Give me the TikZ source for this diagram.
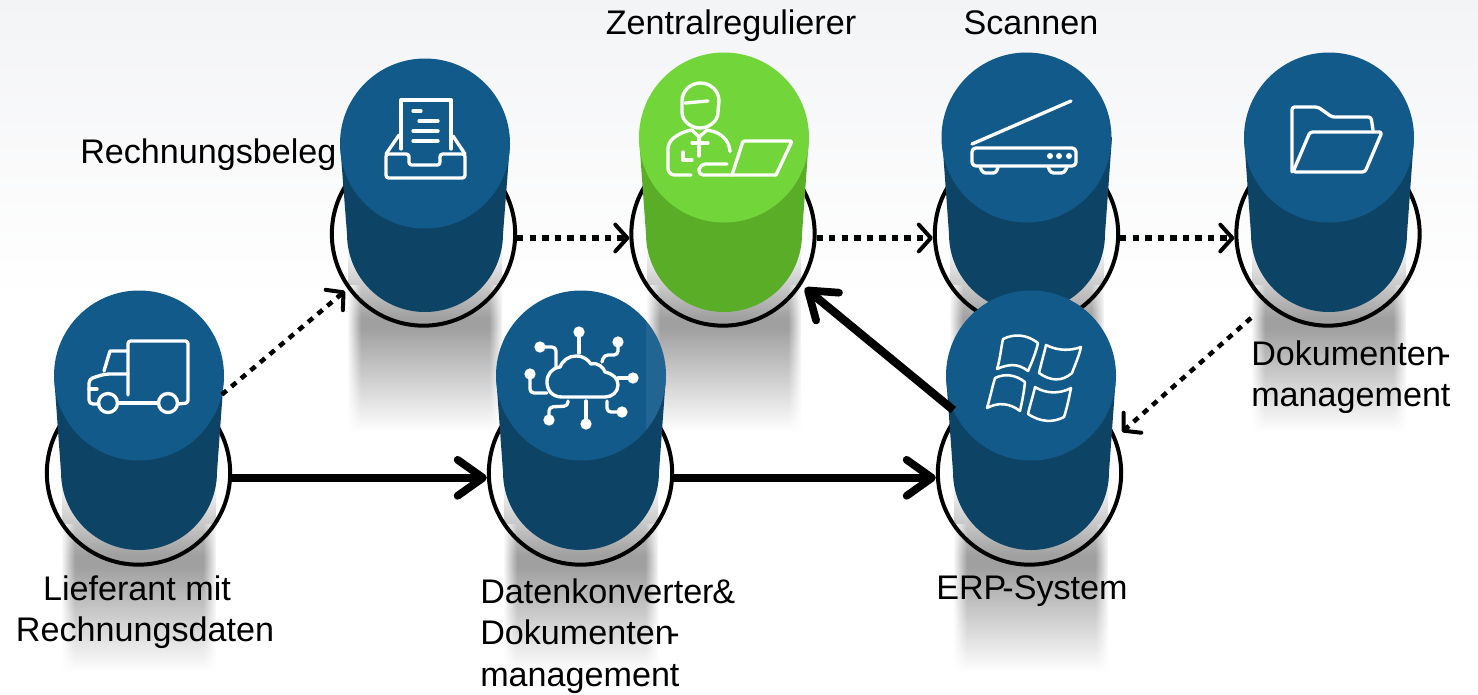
\documentclass[tikz,border=0pt]{standalone}
\usepackage{fontspec}
\setmainfont{Liberation Sans}
\usetikzlibrary{arrows.meta,calc,fadings}
\definecolor{capblue}{HTML}{125A8A}
\definecolor{bodyblue}{HTML}{0D4466}
\definecolor{capgreen}{HTML}{72D63A}
\definecolor{bodygreen}{HTML}{5AAD26}
\definecolor{columngrey}{HTML}{A0A0A0}
\definecolor{midgrey}{HTML}{E0E0E0}
\definecolor{paper}{HTML}{F3F4F6}
\tikzset{
  capdisc/.style={circle,inner sep=0,outer sep=0,minimum size=127.5pt,fill=#1},
  ringnode/.style={circle,draw=black,line width=3pt,inner sep=0,minimum size=137.5pt},
  icon/.style={draw=white,line width=2.5pt,line join=round,line cap=round},
  icondot/.style={fill=white,circle,inner sep=0,outer sep=0,minimum size=8.5pt},
  label/.style={font=\fontsize{25.6}{31.3}\selectfont,inner sep=0,align=left},
  solidflow/.style={line width=6.2pt,-{Straight Barb[length=19pt,width=27pt,line width=5.8pt,round]}},
  dotflow/.style={line width=4pt,dash pattern=on 4.7pt off 4.7pt,-{Straight Barb[length=9pt,width=20pt,line width=3pt,round]}}
}
\begin{document}
\begin{tikzpicture}[x=0.75pt,y=-0.75pt]
\useasboundingbox (0,0) rectangle (1478,694);
\fill[white] (0,0) rectangle (1478,694);
\shade[top color=paper,bottom color=white] (0,0) rectangle (1478,300);

\shade[top color=white,bottom color=columngrey] (348,243) rectangle (502,318);
\fill[columngrey] (348,318) rectangle (502,328);
\shade[top color=columngrey,middle color=midgrey,bottom color=white] (348,328) rectangle (502,432);
\shade[top color=white,bottom color=columngrey] (647,243) rectangle (801,318);
\fill[columngrey] (647,318) rectangle (801,328);
\shade[top color=columngrey,middle color=midgrey,bottom color=white] (647,328) rectangle (801,432);
\shade[top color=white,bottom color=columngrey] (950,243) rectangle (1104,318);
\fill[columngrey] (950,318) rectangle (1104,328);
\shade[top color=columngrey,middle color=midgrey,bottom color=white] (950,328) rectangle (1104,432);
\shade[top color=white,bottom color=columngrey] (1252,243) rectangle (1406,318);
\fill[columngrey] (1252,318) rectangle (1406,328);
\shade[top color=columngrey,middle color=midgrey,bottom color=white] (1252,328) rectangle (1406,432);
\shade[top color=white,bottom color=columngrey] (62,480) rectangle (216,555);
\fill[columngrey] (62,555) rectangle (216,567);
\shade[top color=columngrey,middle color=midgrey,bottom color=white] (62,567) rectangle (216,672);
\shade[top color=white,bottom color=columngrey] (504,480) rectangle (658,555);
\fill[columngrey] (504,555) rectangle (658,567);
\shade[top color=columngrey,middle color=midgrey,bottom color=white] (504,567) rectangle (658,672);
\shade[top color=white,bottom color=columngrey] (954,480) rectangle (1108,555);
\fill[columngrey] (954,555) rectangle (1108,567);
\shade[top color=columngrey,middle color=midgrey,bottom color=white] (954,567) rectangle (1108,672);
\fill[white,path fading=east] (347,285) rectangle (361,432);
\fill[white,path fading=west] (489,285) rectangle (503,432);
\fill[white,path fading=east] (646,285) rectangle (660,432);
\fill[white,path fading=west] (788,285) rectangle (802,432);
\fill[white,path fading=east] (949,285) rectangle (963,432);
\fill[white,path fading=west] (1091,285) rectangle (1105,432);
\fill[white,path fading=east] (1251,285) rectangle (1265,432);
\fill[white,path fading=west] (1393,285) rectangle (1407,432);
\fill[white,path fading=east] (61,524) rectangle (75,672);
\fill[white,path fading=west] (203,524) rectangle (217,672);
\fill[white,path fading=east] (503,524) rectangle (517,672);
\fill[white,path fading=west] (645,524) rectangle (659,672);
\fill[white,path fading=east] (953,524) rectangle (967,672);
\fill[white,path fading=west] (1095,524) rectangle (1109,672);

\node[ringnode] (belegring) at (423.5,234) {};
\fill[bodyblue] (340,143) -- (347,234) arc[start angle=180,end angle=0,radius=78] -- (510,143) -- cycle;
\node[capdisc=capblue] (belegcap) at (425,143.5) {};
\node[ringnode] (zentralring) at (723,234) {};
\fill[bodygreen] (639,137) -- (646,234) arc[start angle=180,end angle=0,radius=78] -- (809,137) -- cycle;
\node[capdisc=capgreen] (zentralcap) at (724,137.5) {};
\node[ringnode] (scanring) at (1026.5,234) {};
\fill[bodyblue] (942,137) -- (949,234) arc[start angle=180,end angle=0,radius=78] -- (1112,137) -- cycle;
\node[capdisc=capblue] (scancap) at (1026.5,137.5) {};
\node[ringnode] (ordnerring) at (1328,234) {};
\fill[bodyblue] (1244,137) -- (1251,234) arc[start angle=180,end angle=0,radius=78] -- (1414,137) -- cycle;
\node[capdisc=capblue] (ordnercap) at (1329,137.5) {};
\node[ringnode] (lieferantring) at (138.5,473) {};
\fill[bodyblue] (54,375) -- (61,472) arc[start angle=180,end angle=0,radius=78] -- (224,375) -- cycle;
\node[capdisc=capblue] (lieferantcap) at (139,375.5) {};
\node[ringnode] (konverterring) at (580.5,473) {};
\fill[bodyblue] (496,375) -- (503,472) arc[start angle=180,end angle=0,radius=78] -- (666,375) -- cycle;
\node[capdisc=capblue] (konvertercap) at (581,375.5) {};
\fill[white,opacity=0.07] (646,321) arc[start angle=-40,end angle=40,radius=85] -- cycle;
\node[ringnode] (erpring) at (1029.5,473) {};
\fill[bodyblue] (946,375) -- (953,472) arc[start angle=180,end angle=0,radius=78] -- (1116,375) -- cycle;
\node[capdisc=capblue] (erpcap) at (1031,375.5) {};

\draw[icon] (401,149) -- (401,100) -- (451,100) -- (451,149);
\draw[icon] (413,111) -- (421,111);
\draw[icon] (419,121) -- (438,121);
\draw[icon] (413,131) -- (438,131);
\draw[icon] (413,141) -- (438,141);
\draw[icon,rounded corners=2pt] (386,154) -- (409,154) -- (409,165) -- (440,165) -- (440,154) -- (465,154) -- (465,178) -- (386,178) -- cycle;
\draw[icon] (386,154) -- (399,135);
\draw[icon] (465,154) -- (453,136);

\draw[icon] (682,101) arc[start angle=180,end angle=360,x radius=18.5,y radius=18] -- (718,112) .. controls (718,122) and (708,128) .. (700,128) .. controls (692,128) and (682,122) .. (682,112) -- cycle;
\draw[icon] (685,103) -- (708,101);
\draw[icon,rounded corners=5pt] (691,175) -- (668,175) -- (668,142) -- (682,132) -- (692,130);
\draw[icon,rounded corners=5pt] (707,130) -- (720,133) -- (730,145) -- (730,151);
\draw[icon] (692,130) -- (699,137) -- (707,130);
\draw[icon] (692,143) -- (708,143);
\draw[icon] (699,137) -- (699,156);
\draw[icon] (683,152) -- (683,160) -- (692,160);
\draw[icon,rounded corners=4pt] (727,164) -- (700,164) -- (698,175) -- (776,175);
\draw[icon,rounded corners=1pt] (732,175) -- (743,141) -- (792,141) -- (776,175);

\draw[icon] (972,144) -- (1071,101);
\draw[icon,rounded corners=3pt] (972,148) rectangle (1076,166);
\draw[icon,rounded corners=2pt] (980,167) -- (983,173) -- (996,173) -- (998,167);
\draw[icon,rounded corners=2pt] (1048,167) -- (1051,173) -- (1064,173) -- (1067,167);
\node[icondot,minimum size=4.5pt] (scandota) at (1050,156) {};
\node[icondot,minimum size=4.5pt] (scandotb) at (1059,156) {};
\node[icondot,minimum size=4.5pt] (scandotc) at (1069,156) {};

\draw[icon,rounded corners=2pt] (1292,172) -- (1292,107) -- (1318,107) -- (1332,117) -- (1371,117) -- (1373,130);
\draw[icon,rounded corners=2pt] (1293,172) -- (1310,132) -- (1382,132) -- (1365,172) -- cycle;

\draw[icon,rounded corners=2pt] (128,395) -- (128,341) -- (188,341) -- (188,403) -- (178,404);
\draw[icon] (104,371) -- (110,351) -- (128,351);
\draw[icon,rounded corners=3pt] (128,374) -- (105,374) -- (89,379) -- (89,404) -- (99,404);
\draw[icon] (89,389) -- (97,389);
\draw[icon] (118,403) -- (158,403);
\draw[icon] (108,403) circle[radius=9.5];
\draw[icon] (168,403) circle[radius=9.5];

\draw[icon] (562,397) .. controls (552,397) and (547,390) .. (547,382) .. controls (547,374) and (552,368) .. (560,367) .. controls (563,360) and (569,356) .. (576,356) .. controls (584,356) and (588,360) .. (591,364) .. controls (598,362) and (604,368) .. (605,372) .. controls (613,374) and (618,378) .. (618,385) .. controls (618,392) and (612,397) .. (605,397) -- cycle;
\draw[icon] (579,332) -- (579,353);
\draw[icon,rounded corners=3pt] (618,342) -- (618,355) -- (604,355) -- (602,362);
\draw[icon,rounded corners=3pt] (540,347) -- (556,347) -- (556,367);
\draw[icon,rounded corners=3pt] (530,374) -- (530,393) -- (547,393);
\draw[icon] (618,378) -- (633,378);
\draw[icon,rounded corners=3pt] (549,420) -- (549,407) -- (568,406) -- (568,401);
\draw[icon] (586,401) -- (586,424);
\draw[icon,rounded corners=3pt] (607,401) -- (607,412) -- (622,412);
\node[icondot] (clouddota) at (579,332) {};
\node[icondot] (clouddotb) at (618,342) {};
\node[icondot] (clouddotc) at (540,347) {};
\node[icondot] (clouddotd) at (530,374) {};
\node[icondot] (clouddote) at (633,378) {};
\node[icondot] (clouddotf) at (549,420) {};
\node[icondot] (clouddotg) at (586,424) {};
\node[icondot] (clouddoth) at (622,412) {};

\draw[icon,line width=1.9pt] (997,369) .. controls (1000,360) and (1001,348) .. (1003,339) .. controls (1015,333) and (1028,335) .. (1038,343) .. controls (1036,352) and (1032,362) .. (1028,371) .. controls (1018,363) and (1008,364) .. (997,369) -- cycle;
\draw[icon,line width=1.9pt] (1046,345) .. controls (1058,351) and (1070,351) .. (1081,347) .. controls (1079,356) and (1075,365) .. (1072,373) .. controls (1062,382) and (1050,381) .. (1039,373) .. controls (1041,364) and (1044,354) .. (1046,345) -- cycle;
\draw[icon,line width=1.9pt] (987,408) .. controls (990,398) and (992,388) .. (995,378) .. controls (1005,373) and (1016,375) .. (1025,382) .. controls (1024,392) and (1022,402) .. (1020,411) .. controls (1010,403) and (998,402) .. (987,408) -- cycle;
\draw[icon,line width=1.9pt] (1035,387) .. controls (1046,394) and (1060,394) .. (1071,388) .. controls (1069,398) and (1067,408) .. (1064,417) .. controls (1053,423) and (1040,422) .. (1028,414) .. controls (1030,405) and (1033,396) .. (1035,387) -- cycle;

\coordinate (belegtip) at (345,291);
\coordinate (zentraltip) at (805,288);
\coordinate (erptip) at (1122,432);
\coordinate (ordnerstart) at (1251,318);
\draw[dotflow,line width=3.4pt] (lieferantcap.-13) -- (belegtip);
\draw[dotflow] ([yshift=-3pt]belegring.east) -- ([yshift=-3pt]zentralring.west);
\draw[dotflow] ([yshift=-3pt]zentralring.east) -- ([yshift=-3pt]scanring.west);
\draw[dotflow] ([yshift=-3pt]scanring.east) -- ([yshift=-3pt]ordnerring.west);
\draw[dotflow,line width=3.4pt] (ordnerstart) -- (erptip);
\draw[solidflow] ([yshift=-3.6pt]lieferantring.east) -- ([yshift=-3.6pt]konverterring.west);
\draw[solidflow] ([yshift=-3.6pt]konverterring.east) -- ([yshift=-3.6pt]erpring.west);
\draw[solidflow] (erpcap.204) -- (zentraltip);

\node[label,anchor=base] (zentrallabel) at (731,34) {Zentralregulierer};
\node[label,anchor=base] (scanlabel) at (1031,34) {Scannen};
\node[label,anchor=base west] (beleglabel) at (80,163) {Rechnungsbeleg};
\node[label,anchor=north west] (ordnerlabel) at (1251,340) {Dokumenten\kern-4pt -\\management};
\node[label,anchor=north,align=center] (lieferantlabel) at (145,575) {Lieferant mit\hspace*{12pt}\\Rechnungsdaten};
\node[label,anchor=north west] (konverterlabel) at (480,578) {Datenkonverter\kern-1pt\&\\Dokumenten\kern-4pt -\\management};
\node[label,anchor=base west] (erplabel) at (936,599) {ERP\kern-3pt -System};
\end{tikzpicture}
\end{document}
